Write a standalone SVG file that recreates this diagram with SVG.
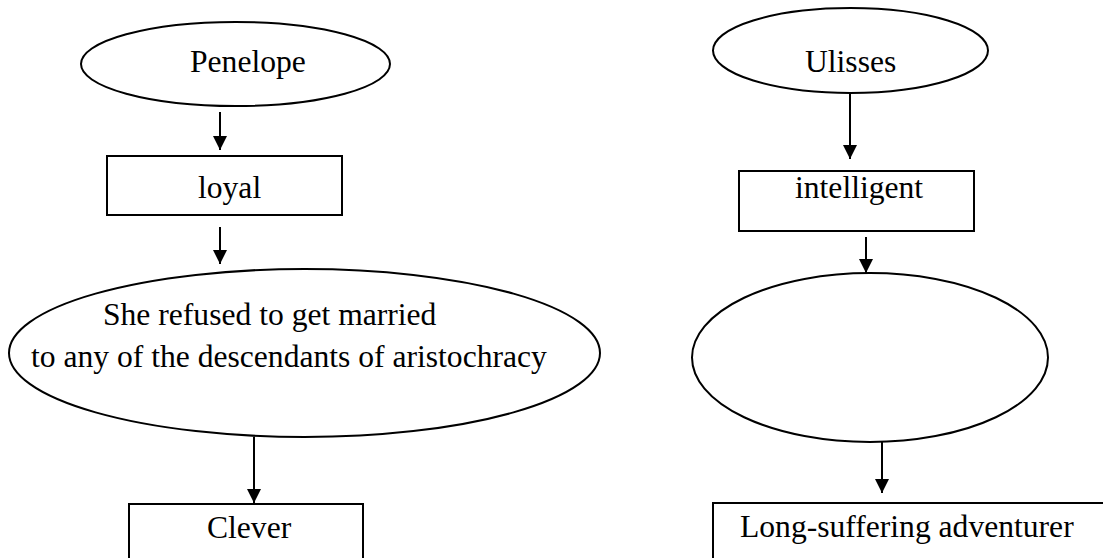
<svg xmlns="http://www.w3.org/2000/svg" width="1103" height="558" viewBox="0 0 1103 558">
<style>
.shape{fill:#fff;stroke:#000;stroke-width:2}
.lbl{font-family:"Liberation Serif","Times New Roman",serif;font-size:31.6px;fill:#000}
.conn line{stroke:#000;stroke-width:2}
</style>
<defs>
<marker id="ah" markerUnits="userSpaceOnUse" markerWidth="14" markerHeight="15" refX="14" refY="7" orient="auto" viewBox="0 0 14 14">
<path d="M0,0 L14,7 L0,14 Z" fill="#000"/>
</marker>
</defs>
<rect width="1103" height="558" fill="#fff"/>
<g id="penelope"><ellipse class="shape" cx="235.5" cy="64" rx="154.5" ry="42"/><text class="lbl" x="190" y="72">Penelope</text></g>
<g id="loyal"><rect class="shape" x="107" y="156" width="235" height="59"/><text class="lbl" x="198" y="198">loyal</text></g>
<g id="refused"><ellipse class="shape" cx="304.5" cy="353" rx="295.5" ry="84"/><text class="lbl" x="103" y="325">She refused to get married</text><text class="lbl" x="31" y="367">to any of the descendants of aristochracy</text></g>
<g id="clever"><rect class="shape" x="129" y="504" width="234" height="80"/><text class="lbl" x="207" y="538">Clever</text></g>
<g id="ulisses"><ellipse class="shape" cx="850.5" cy="50.5" rx="137.5" ry="42.5"/><text class="lbl" x="805" y="72">Ulisses</text></g>
<g id="intelligent"><rect class="shape" x="739" y="171" width="235" height="60"/><text class="lbl" x="795" y="198">intelligent</text></g>
<g id="blank"><ellipse class="shape" cx="870" cy="357.5" rx="178" ry="84.5"/></g>
<g id="adventurer"><rect class="shape" x="713" y="503" width="420" height="80"/><text class="lbl" x="740" y="537">Long-suffering adventurer</text></g>
<g class="conn" id="connectors">
<line x1="220" y1="112" x2="220" y2="150" marker-end="url(#ah)"/>
<line x1="220" y1="227" x2="220" y2="264" marker-end="url(#ah)"/>
<line x1="254" y1="437" x2="254" y2="503" marker-end="url(#ah)"/>
<line x1="850" y1="93" x2="850" y2="159" marker-end="url(#ah)"/>
<line x1="866" y1="237" x2="866" y2="273" marker-end="url(#ah)"/>
<line x1="882" y1="442" x2="882" y2="493" marker-end="url(#ah)"/>
</g>
</svg>
